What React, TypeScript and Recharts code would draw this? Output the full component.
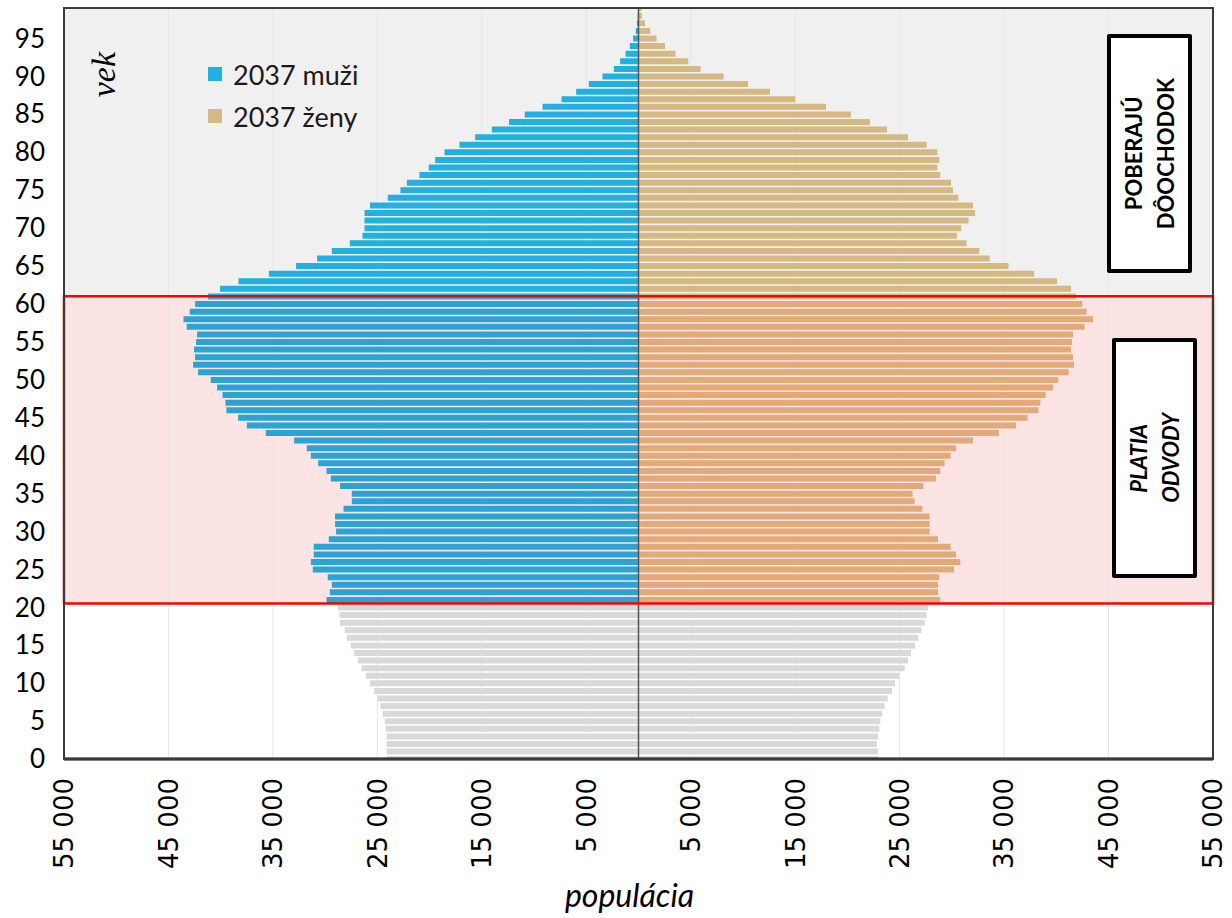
import React from "react";
import { Bar, BarChart, CartesianGrid, Cell, ReferenceArea, ReferenceLine, XAxis, YAxis } from "recharts";

// vek 0..99
const ages = Array.from({ length: 100 }, (_, i) => i);

// 2037 muži, podľa veku 0..99
const men2037 = [
  24100, 24100, 24100, 24100, 24190, 24290, 24480, 24700, 24990, 25310,
  25700, 26110, 26520, 26850, 27230, 27540, 27930, 28120, 28570, 28630,
  28760, 29870, 29550, 29360, 29750, 31180, 31370, 31090, 31090, 29650,
  28950, 29050, 29050, 28240, 27450, 27450, 28570, 29460, 29870, 30670,
  31370, 31760, 32970, 35680, 37500, 38330, 39450, 39540, 39830, 40340,
  40950, 42160, 42640, 42450, 42550, 42360, 42260, 43250, 43560, 42960,
  42450, 41230, 40060, 38300, 35390, 32780, 30770, 29360, 27640, 26420,
  26230, 26230, 26230, 25700, 24000, 22790, 22180, 20970, 20080, 19470,
  18570, 17140, 15640, 14040, 12390, 10890, 9190, 7370, 5970, 4760,
  3450, 2360, 1760, 1240, 830, 520, 260, 150, 80, 40,
];

// 2037 ženy, podľa veku 0..99
const women2037 = [
  22930, 22930, 22830, 22930, 23050, 23150, 23340, 23560, 23850, 24270,
  24560, 24970, 25480, 25800, 26090, 26470, 26790, 27080, 27390, 27580,
  27720, 28890, 28670, 28670, 28800, 30210, 30810, 30400, 29880, 28670,
  27870, 27870, 27870, 27170, 26430, 26240, 27270, 28480, 28890, 29310,
  29880, 30400, 32020, 34510, 36140, 37250, 38280, 38470, 38980, 39680,
  40190, 41180, 41700, 41600, 41410, 41500, 41600, 42710, 43510, 42900,
  42490, 41890, 41410, 40070, 37870, 35430, 33620, 32630, 31410, 30490,
  30900, 31600, 32220, 32020, 30620, 30110, 29920, 28890, 28610, 28800,
  28610, 27580, 25800, 23790, 22160, 20340, 17950, 15010, 12590, 10480,
  8150, 5950, 4770, 3550, 2540, 1730, 1130, 620, 330, 270,
];

const xTicks = [-55000, -45000, -35000, -25000, -15000, -5000, 5000, 15000, 25000, 35000, 45000, 55000];
const ageTicks = [0, 5, 10, 15, 20, 25, 30, 35, 40, 45, 50, 55, 60, 65, 70, 75, 80, 85, 90, 95];
const seriesNames = ["2037 muži", "2037 ženy"];

// hranice vekových skupín
const workFrom = 20.5;
const pensionFrom = 61;

const GREY = "#d9d9d9";
const MEN = "#21b0e0";
const MEN_WORK = "#2ba3d3";
const WOMEN = "#d5b985";
const WOMEN_WORK = "#e2aa78";

const data = ages.map((age, i) => ({ age, men: -men2037[i], women: women2037[i] }));

function barColor(age: number, upper: string, work: string) {
  if (age < workFrom) return GREY;
  if (age < pensionFrom) return work;
  return upper;
}

function fmt(v: number) {
  return String(Math.abs(v)).replace(/\B(?=(\d{3})+(?!\d))/g, " ");
}

const XTick = (props: any) => {
  const { x, y, payload } = props;
  return (
    <text
      transform={`translate(${x},${y}) rotate(-90)`}
      textAnchor="end"
      dy="0.36em"
      fontSize={26}
      fontFamily="DejaVu Sans"
      fill="#000"
    >
      {fmt(payload.value)}
    </text>
  );
};

const boxBase: React.CSSProperties = {
  position: "absolute",
  boxSizing: "border-box",
  border: "4px solid #000",
  borderRadius: 2,
  background: "#fff",
  display: "flex",
  alignItems: "center",
  justifyContent: "center",
};

const boxText: React.CSSProperties = {
  writingMode: "vertical-rl",
  transform: "rotate(180deg)",
  fontFamily: "Lato",
  fontWeight: 700,
  fontSize: 22,
  lineHeight: "32px",
  textAlign: "center",
  color: "#000",
};

export default function App() {
  return (
    <div style={{ position: "absolute", left: 0, top: 0, width: 1232, height: 918, background: "#fff" }}>
      <BarChart
        width={1232}
        height={918}
        data={data}
        layout="vertical"
        stackOffset="sign"
        barCategoryGap="13%"
        margin={{ top: 8, right: 19, bottom: 0, left: 0 }}
      >
        <ReferenceArea x1={-55000} x2={55000} y1={pensionFrom} y2={99} fill="#f0f0f0" fillOpacity={1} stroke="none" zIndex={-200} />
        <ReferenceArea x1={-55000} x2={55000} y1={workFrom} y2={pensionFrom} fill="#fde4e4" fillOpacity={1} stroke="none" zIndex={-200} />
        <CartesianGrid horizontal={false} stroke="#e6e6e6" />
        <XAxis
          type="number"
          domain={[-55000, 55000]}
          ticks={xTicks}
          interval={0}
          height={159}
          tickSize={0}
          tickMargin={19}
          tickLine={false}
          axisLine={{ stroke: "#000", strokeWidth: 3 }}
          tick={<XTick />}
          label={{
            value: "populácia",
            position: "insideBottom",
            offset: 11,
            dx: -9,
            fontSize: 32,
            fontStyle: "italic",
            fontFamily: "Lato",
            fill: "#000",
          }}
        />
        <YAxis
          type="number"
          dataKey="age"
          domain={[0, 99]}
          ticks={ageTicks}
          interval={0}
          reversed
          allowDataOverflow
          width={64}
          tickSize={0}
          tickMargin={19}
          tickLine={false}
          axisLine={false}
          tick={{ fontSize: 26, fill: "#000", fontFamily: "Lato" }}
        />
        <Bar dataKey="men" name={seriesNames[0]} stackId="p" fill={MEN} isAnimationActive={false}>
          {data.map((d) => (
            <Cell key={`m${d.age}`} fill={barColor(d.age, MEN, MEN_WORK)} />
          ))}
        </Bar>
        <Bar dataKey="women" name={seriesNames[1]} stackId="p" fill={WOMEN} isAnimationActive={false}>
          {data.map((d) => (
            <Cell key={`w${d.age}`} fill={barColor(d.age, WOMEN, WOMEN_WORK)} />
          ))}
        </Bar>
        <ReferenceLine x={0} stroke="#555" strokeWidth={1.5} zIndex={650} />
        <ReferenceArea
          x1={-55000}
          x2={55000}
          y1={workFrom}
          y2={pensionFrom}
          fill="none"
          stroke="#ff0000"
          strokeWidth={2.5}
          zIndex={700}
        />
        <ReferenceArea x1={-55000} x2={55000} y1={0} y2={99} fill="none" stroke="#3a3a3a" strokeWidth={2} zIndex={700} />
      </BarChart>

      {/* legenda */}
      <div style={{ position: "absolute", left: 208, top: 53, fontFamily: "Lato", fontSize: 27, color: "#1a1a1a" }}>
        {[MEN, WOMEN].map((c, i) => (
          <div key={seriesNames[i]} style={{ display: "flex", alignItems: "center", height: 42 }}>
            <span style={{ width: 14, height: 14, background: c, display: "inline-block", marginRight: 11 }} />
            {seriesNames[i]}
          </div>
        ))}
      </div>

      {/* vek */}
      <div
        style={{
          position: "absolute",
          left: 86,
          top: 52,
          writingMode: "vertical-rl",
          transform: "rotate(180deg)",
          fontFamily: "Liberation Serif",
          fontStyle: "italic",
          fontSize: 34,
          lineHeight: "36px",
          color: "#000",
        }}
      >
        vek
      </div>

      <div style={{ ...boxBase, left: 1107, top: 34, width: 85, height: 239 }}>
        <div style={boxText}>
          POBERAJÚ
          <br />
          DÔOCHODOK
        </div>
      </div>
      <div style={{ ...boxBase, left: 1112, top: 338, width: 85, height: 240 }}>
        <div style={{ ...boxText, fontStyle: "italic" }}>
          PLATIA
          <br />
          ODVODY
        </div>
      </div>
    </div>
  );
}
